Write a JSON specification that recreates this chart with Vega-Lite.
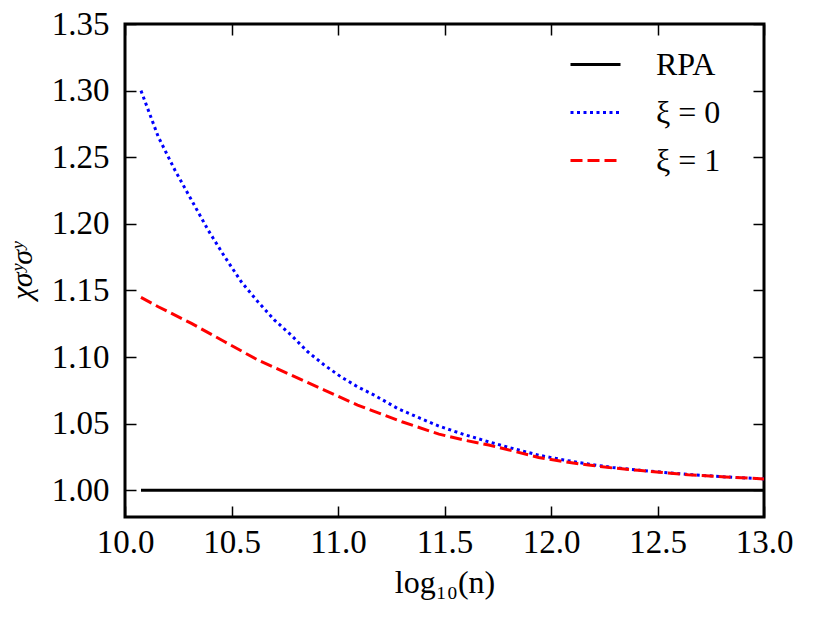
{
  "$schema": "https://vega.github.io/schema/vega-lite/v6.json",
  "width": 639,
  "height": 493,
  "autosize": {"type": "none"},
  "padding": {"left": 125, "top": 24, "right": 67, "bottom": 106},
  "background": "white",
  "data": {
    "values": [
      {"series": "RPA", "x": 10.075, "y": 1.0},
      {"series": "RPA", "x": 13.0, "y": 1.0},
      {"series": "ξ = 0", "x": 10.075, "y": 1.300},
      {"series": "ξ = 0", "x": 10.156, "y": 1.2654},
      {"series": "ξ = 0", "x": 10.234, "y": 1.2404},
      {"series": "ξ = 0", "x": 10.312, "y": 1.2179},
      {"series": "ξ = 0", "x": 10.39, "y": 1.1954},
      {"series": "ξ = 0", "x": 10.468, "y": 1.1753},
      {"series": "ξ = 0", "x": 10.546, "y": 1.1565},
      {"series": "ξ = 0", "x": 10.624, "y": 1.1415},
      {"series": "ξ = 0", "x": 10.702, "y": 1.1278},
      {"series": "ξ = 0", "x": 10.78, "y": 1.1165},
      {"series": "ξ = 0", "x": 10.858, "y": 1.104},
      {"series": "ξ = 0", "x": 10.936, "y": 1.094},
      {"series": "ξ = 0", "x": 11.014, "y": 1.0852},
      {"series": "ξ = 0", "x": 11.092, "y": 1.0777},
      {"series": "ξ = 0", "x": 11.17, "y": 1.0715},
      {"series": "ξ = 0", "x": 11.279, "y": 1.0615},
      {"series": "ξ = 0", "x": 11.38, "y": 1.0545},
      {"series": "ξ = 0", "x": 11.474, "y": 1.0482},
      {"series": "ξ = 0", "x": 11.59, "y": 1.042},
      {"series": "ξ = 0", "x": 11.708, "y": 1.0364},
      {"series": "ξ = 0", "x": 11.83, "y": 1.031},
      {"series": "ξ = 0", "x": 11.942, "y": 1.0264},
      {"series": "ξ = 0", "x": 12.06, "y": 1.0228},
      {"series": "ξ = 0", "x": 12.176, "y": 1.0197},
      {"series": "ξ = 0", "x": 12.29, "y": 1.0172},
      {"series": "ξ = 0", "x": 12.41, "y": 1.0152},
      {"series": "ξ = 0", "x": 12.53, "y": 1.0135},
      {"series": "ξ = 0", "x": 12.644, "y": 1.0119},
      {"series": "ξ = 0", "x": 12.82, "y": 1.0101},
      {"series": "ξ = 0", "x": 13.0, "y": 1.0086},
      {"series": "ξ = 1", "x": 10.075, "y": 1.1448},
      {"series": "ξ = 1", "x": 10.156, "y": 1.1378},
      {"series": "ξ = 1", "x": 10.312, "y": 1.1253},
      {"series": "ξ = 1", "x": 10.468, "y": 1.1115},
      {"series": "ξ = 1", "x": 10.624, "y": 1.0978},
      {"series": "ξ = 1", "x": 10.78, "y": 1.0865},
      {"series": "ξ = 1", "x": 10.936, "y": 1.0752},
      {"series": "ξ = 1", "x": 11.092, "y": 1.064},
      {"series": "ξ = 1", "x": 11.154, "y": 1.0602},
      {"series": "ξ = 1", "x": 11.3, "y": 1.0515},
      {"series": "ξ = 1", "x": 11.474, "y": 1.0422},
      {"series": "ξ = 1", "x": 11.59, "y": 1.0378},
      {"series": "ξ = 1", "x": 11.708, "y": 1.034},
      {"series": "ξ = 1", "x": 11.83, "y": 1.0292},
      {"series": "ξ = 1", "x": 11.942, "y": 1.0247},
      {"series": "ξ = 1", "x": 12.06, "y": 1.0215},
      {"series": "ξ = 1", "x": 12.176, "y": 1.019},
      {"series": "ξ = 1", "x": 12.29, "y": 1.0168},
      {"series": "ξ = 1", "x": 12.41, "y": 1.015},
      {"series": "ξ = 1", "x": 12.53, "y": 1.0133},
      {"series": "ξ = 1", "x": 12.644, "y": 1.0117},
      {"series": "ξ = 1", "x": 12.82, "y": 1.01},
      {"series": "ξ = 1", "x": 13.0, "y": 1.0086}
    ]
  },
  "layer": [
    {
      "mark": {"type": "line", "strokeWidth": 3, "clip": true},
      "encoding": {
        "x": {
          "field": "x",
          "type": "quantitative",
          "scale": {"domain": [10, 13], "nice": false, "zero": false},
          "axis": {
            "orient": "bottom",
            "values": [10, 10.5, 11, 11.5, 12, 12.5, 13],
            "format": ".1f",
            "labelFlush": false,
            "labelPadding": 20,
            "title": "log₁₀(n)",
            "titleFontSize": 32,
            "titlePadding": 8
          }
        },
        "y": {
          "field": "y",
          "type": "quantitative",
          "scale": {"domain": [0.98, 1.35], "nice": false, "zero": false},
          "axis": {
            "orient": "left",
            "values": [1.0, 1.05, 1.1, 1.15, 1.2, 1.25, 1.3, 1.35],
            "format": ".2f",
            "labelFlush": false,
            "labelPadding": 27,
            "title": "χσʸσʸ",
            "titleFontSize": 30,
            "titleFontStyle": "italic",
            "titlePadding": 14
          }
        },
        "color": {
          "field": "series",
          "type": "nominal",
          "sort": null,
          "scale": {"domain": ["RPA", "ξ = 0", "ξ = 1"], "range": ["#000000", "#0000ff", "#ff0000"]},
          "legend": {
            "orient": "none",
            "legendX": 444,
            "legendY": 14,
            "title": null,
            "symbolType": "stroke",
            "symbolSize": 2500,
            "symbolStrokeWidth": 3,
            "labelFont": "Liberation Serif",
            "labelFontSize": 32,
            "labelColor": "black",
            "labelOffset": 34,
            "rowPadding": 5
          }
        },
        "strokeDash": {
          "field": "series",
          "type": "nominal",
          "sort": null,
          "scale": {"domain": ["RPA", "ξ = 0", "ξ = 1"], "range": [[1, 0], [3, 3.5], [12, 5]]},
          "legend": {
            "orient": "none",
            "legendX": 444,
            "legendY": 14,
            "title": null,
            "symbolType": "stroke",
            "symbolSize": 2500,
            "symbolStrokeWidth": 3,
            "labelFont": "Liberation Serif",
            "labelFontSize": 32,
            "labelColor": "black",
            "labelOffset": 34,
            "rowPadding": 5
          }
        }
      }
    },
    {
      "mark": {"type": "line", "opacity": 0},
      "encoding": {
        "x": {
          "field": "x",
          "type": "quantitative",
          "axis": {"orient": "top", "values": [10, 10.5, 11, 11.5, 12, 12.5, 13], "labels": false, "title": null}
        },
        "y": {
          "field": "y",
          "type": "quantitative",
          "axis": {"orient": "right", "values": [1.0, 1.05, 1.1, 1.15, 1.2, 1.25, 1.3, 1.35], "labels": false, "title": null}
        }
      }
    }
  ],
  "resolve": {"axis": {"x": "independent", "y": "independent"}},
  "config": {
    "view": {"stroke": "black", "strokeWidth": 3},
    "axis": {
      "domain": false,
      "grid": false,
      "ticks": true,
      "tickSize": -11,
      "tickWidth": 1.5,
      "tickColor": "black",
      "labelFont": "Liberation Serif",
      "labelFontSize": 33,
      "labelColor": "black",
      "titleFont": "Liberation Serif",
      "titleColor": "black",
      "titleFontWeight": "normal"
    }
  }
}
